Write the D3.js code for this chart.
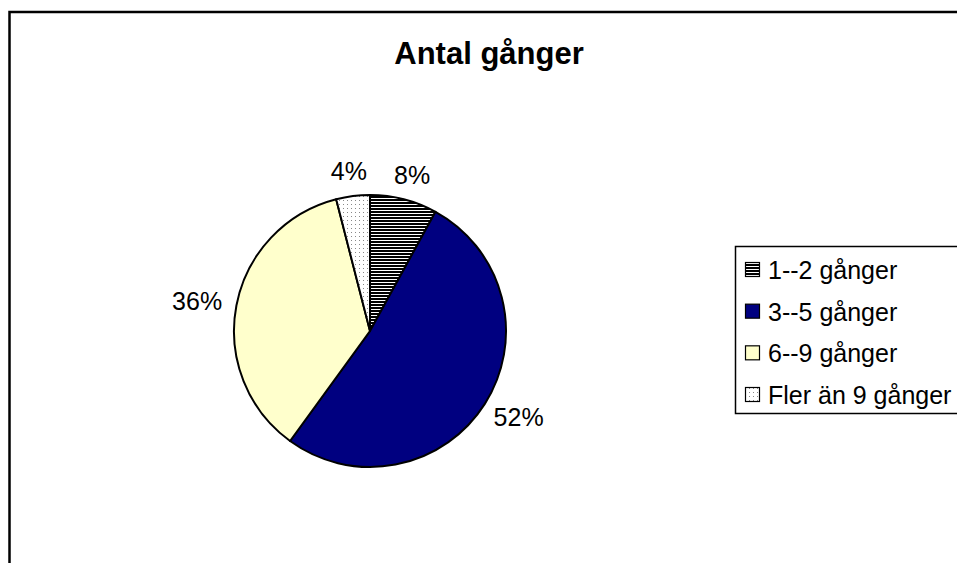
<!DOCTYPE html>
<html>
<head>
<meta charset="utf-8">
<script src="https://cdn.jsdelivr.net/npm/d3@7"></script>
<style>
  html, body { margin: 0; padding: 0; background: #fff; overflow: hidden; }
  svg { display: block; }
  text { font-family: "Liberation Sans", Arial, sans-serif; }
</style>
</head>
<body>
<svg id="chart" width="957" height="563"></svg>
<script>
const title = "Antal gånger";
const categories = ["1--2 gånger", "3--5 gånger", "6--9 gånger", "Fler än 9 gånger"];
const values = [8, 52, 36, 4];
const labels = ["8%", "52%", "36%", "4%"];
const fills = ["url(#stripes)", "#000080", "#FFFFCC", "url(#dots)"];

const svg = d3.select("#chart");
const defs = svg.append("defs");

// horizontal stripes pattern
const stripes = defs.append("pattern")
  .attr("id", "stripes").attr("patternUnits", "userSpaceOnUse")
  .attr("width", 8).attr("height", 3);
stripes.append("rect").attr("width", 8).attr("height", 3).attr("fill", "#fff");
stripes.append("rect").attr("width", 8).attr("height", 2).attr("fill", "#000");

// sparse dots pattern
const dots = defs.append("pattern")
  .attr("id", "dots").attr("patternUnits", "userSpaceOnUse")
  .attr("width", 4).attr("height", 4);
dots.append("rect").attr("width", 4).attr("height", 4).attr("fill", "#fff");
dots.append("rect").attr("x", 1).attr("y", 1).attr("width", 1).attr("height", 1).attr("fill", "#888");

// chart frame (extends beyond viewport on right and bottom)
svg.append("rect")
  .attr("x", 9.5).attr("y", 12)
  .attr("width", 1000).attr("height", 600)
  .attr("fill", "#fff").attr("stroke", "#000").attr("stroke-width", 2.5);

// title
svg.append("text")
  .attr("x", 489).attr("y", 64)
  .attr("text-anchor", "middle")
  .attr("font-size", 31).attr("font-weight", "bold")
  .text(title);

// pie
const cx = 370, cy = 331, r = 136;
const pie = d3.pie().sort(null).value(d => d)(values);
const arc = d3.arc().innerRadius(0).outerRadius(r);
const g = svg.append("g").attr("transform", `translate(${cx},${cy})`);
g.selectAll("path").data(pie).join("path")
  .attr("d", arc)
  .attr("fill", (d, i) => fills[i])
  .attr("stroke", "#000").attr("stroke-width", 2)
  .attr("stroke-linejoin", "round");

// labels: placed outside, box offset along the slice direction
const gap = 15, halfH = 10;
g.selectAll("text.lbl").data(pie).join("text")
  .attr("class", "lbl")
  .attr("text-anchor", "middle")
  .attr("dominant-baseline", "central")
  .attr("font-size", 25)
  .text((d, i) => labels[i])
  .attr("transform", function(d) {
    const a = (d.startAngle + d.endAngle) / 2;
    const w = this.getComputedTextLength();
    const s = Math.sin(a), c = -Math.cos(a);
    const x = (r + gap) * s + (w / 2) * s;
    const y = (r + gap) * c + halfH * c;
    return `translate(${x},${y})`;
  });

// legend
const legend = svg.append("g");
legend.append("rect")
  .attr("x", 735.5).attr("y", 246.5)
  .attr("width", 300).attr("height", 167)
  .attr("fill", "#fff").attr("stroke", "#000").attr("stroke-width", 1.5);
const ly = d3.scalePoint().domain(categories).range([270, 395]);
const items = legend.selectAll("g.item").data(categories).join("g")
  .attr("class", "item")
  .attr("transform", d => `translate(0,${ly(d)})`);
items.append("rect")
  .attr("x", 745.5).attr("y", -7.5)
  .attr("width", 14).attr("height", 14)
  .attr("fill", (d, i) => fills[i])
  .attr("stroke", "#000").attr("stroke-width", 1.2);
items.append("text")
  .attr("x", 768).attr("y", 0)
  .attr("dominant-baseline", "central")
  .attr("font-size", 25)
  .text(d => d);
</script>
</body>
</html>
